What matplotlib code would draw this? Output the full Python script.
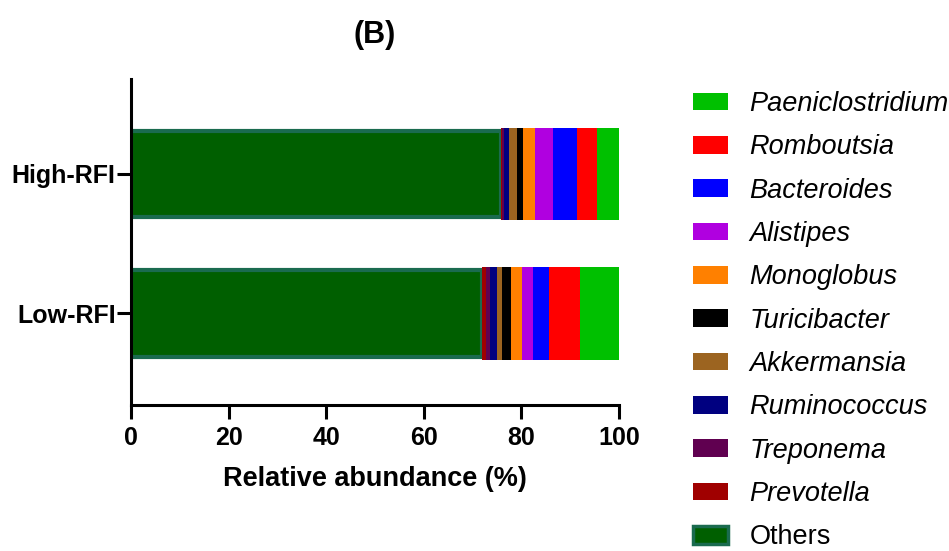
import numpy as np
import matplotlib
matplotlib.use("Agg")
import matplotlib.pyplot as plt
from matplotlib.patches import Patch

plt.rcParams['font.family'] = ['Liberation Sans', 'DejaVu Sans']

groups = ['Low-RFI', 'High-RFI']
# genera in stacking order (left to right)
genera = ['Others', 'Prevotella', 'Treponema', 'Ruminococcus', 'Akkermansia',
          'Turicibacter', 'Monoglobus', 'Alistipes', 'Bacteroides',
          'Romboutsia', 'Paeniclostridium']
low_rfi = [71.9, 0.9, 0.8, 1.5, 0.95, 1.8, 2.3, 2.3, 3.3, 6.3, 7.95]
high_rfi = [75.75, 0.3, 0.45, 0.95, 1.7, 1.25, 2.4, 3.75, 4.8, 4.1, 4.55]
colors = ['#005f00', '#a00000', '#600050', '#000080', '#9c6420',
          '#000000', '#ff8000', '#b000e0', '#0000ff', '#ff0000', '#00c000']

fig = plt.figure(figsize=(9.49, 5.51), dpi=100)
ax = fig.add_axes([131/949, 1-405/551, (619-131)/949, (405-79)/551])

ypos = np.arange(len(groups))
vals = np.array([low_rfi, high_rfi])
left = np.zeros(len(groups))
for i, g in enumerate(genera):
    if g == 'Others':
        ax.barh(ypos, vals[:, i], left=left, height=0.62, color=colors[i],
                edgecolor='#1a6b4f', linewidth=3)
    else:
        ax.barh(ypos, vals[:, i], left=left, height=0.66, color=colors[i],
                linewidth=0)
    left += vals[:, i]

ax.set_xlim(0, 100)
ax.set_ylim(-0.656, 1.681)
ax.set_xticks([0, 20, 40, 60, 80, 100])
ax.set_yticks(ypos)
ax.set_yticklabels(groups)
for s in ['top', 'right']:
    ax.spines[s].set_visible(False)
for s in ['left', 'bottom']:
    ax.spines[s].set_linewidth(2.2)
ax.tick_params(width=2.2, length=10, labelsize=18)
ax.tick_params(axis='y', pad=1)
ax.tick_params(axis='x', pad=5)
for t in ax.get_xticklabels() + ax.get_yticklabels():
    t.set_fontweight('bold')
ax.set_xlabel('Relative abundance (%)', fontsize=19.5, fontweight='bold', labelpad=12)
ax.set_title('(B)', fontsize=22, fontweight='bold', pad=26)

handles = []
for i, g in enumerate(genera):
    if g == 'Others':
        handles.append(Patch(facecolor=colors[i], edgecolor='#1a6b4f', linewidth=2.5, label=g))
    else:
        handles.append(Patch(facecolor=colors[i], edgecolor='none', label=g))
handles = handles[::-1]
leg = fig.legend(handles=handles, loc='upper left', bbox_to_anchor=(693/949, 1-91/551),
                 frameon=False, fontsize=19.5, handlelength=1.3, handleheight=0.63,
                 handletextpad=0.78, labelspacing=0.64, borderpad=0, borderaxespad=0)
for t in leg.get_texts():
    if t.get_text() != 'Others':
        t.set_fontstyle('italic')

fig.savefig('out.png', dpi=100)
